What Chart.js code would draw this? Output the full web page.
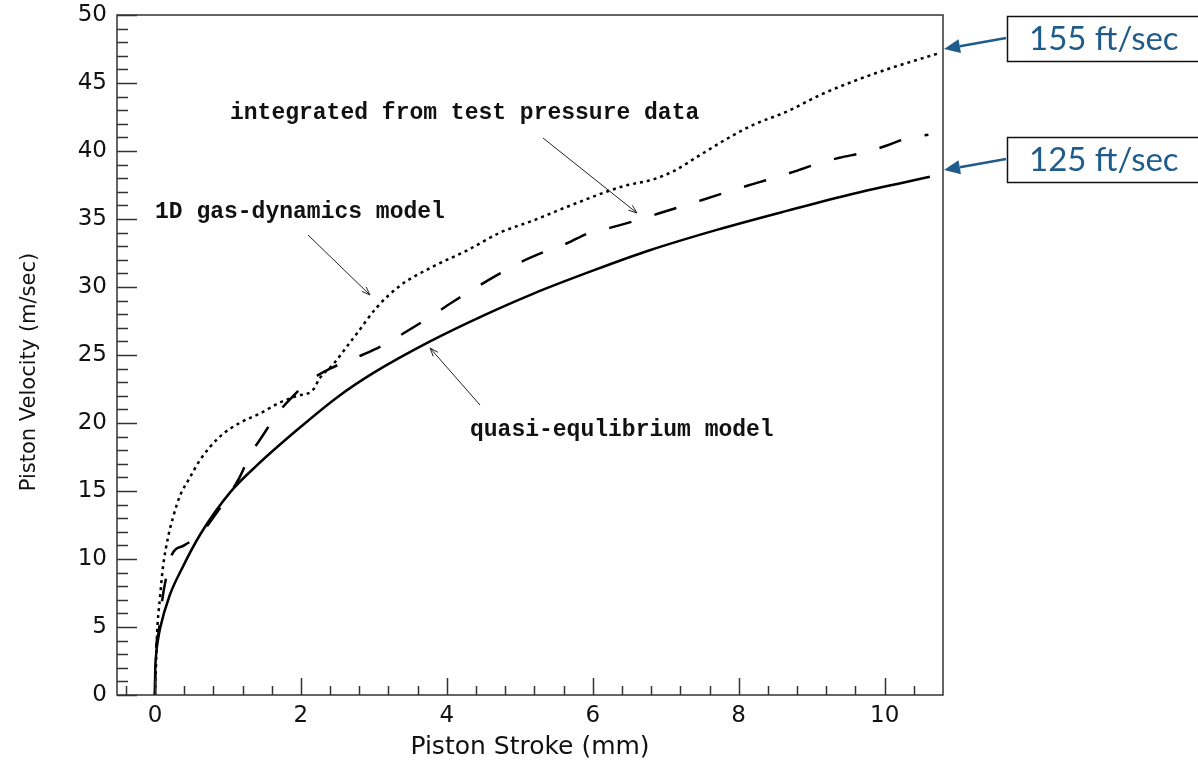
<!DOCTYPE html>
<html>
<head>
<meta charset="utf-8">
<script src="https://cdn.jsdelivr.net/npm/chart.js@4.4.1/dist/chart.umd.min.js"></script>
<style>
  html, body { margin: 0; padding: 0; background: #fff; overflow: hidden; }
  #wrap { width: 1198px; height: 765px; }
</style>
</head>
<body>
<div id="wrap"><canvas id="myChart"></canvas></div>
<script>
// quasi-equlibrium model (solid line)
const quasiX = [0, 0.003, 0.015, 0.04, 0.07, 0.2, 0.38, 0.62, 1.03, 1.4, 1.95, 2.5, 3.0, 3.77, 4.5, 5.18, 6.0, 6.78, 7.7, 8.66, 9.6, 10.62];
const quasiY = [0, 1.5, 2.9, 4.0, 4.9, 7.3, 9.4, 11.8, 14.9, 16.9, 19.5, 21.9, 23.7, 26.0, 27.9, 29.5, 31.2, 32.7, 34.2, 35.6, 36.9, 38.1];

// 1D gas-dynamics model (dotted line)
const gasX = [0, 0.01, 0.03, 0.07, 0.11, 0.18, 0.25, 0.34, 0.48, 0.62, 0.89, 1.16, 1.44, 1.71, 1.95, 2.16, 2.26, 2.44, 2.67, 2.77, 3.04, 3.36, 3.81, 4.28, 4.73, 5.19, 5.65, 6.41, 6.82, 7.1, 7.47, 7.84, 8.19, 8.66, 9.11, 9.56, 10.03, 10.75];
const gasY = [0, 1.5, 4.6, 7.2, 9.4, 11.6, 13.1, 14.6, 16.0, 17.3, 19.0, 20.0, 20.7, 21.5, 22.0, 22.4, 23.3, 24.3, 25.9, 26.6, 28.5, 30.1, 31.5, 32.7, 34.0, 34.9, 35.9, 37.4, 37.9, 38.5, 39.7, 40.9, 41.9, 42.9, 44.1, 45.1, 46.0, 47.2];

// integrated from test pressure data (dashed line)
const testX = [0, 0.01, 0.05, 0.1, 0.16, 0.23, 0.4, 0.62, 0.78, 1.0, 1.16, 1.3, 1.48, 1.68, 1.88, 2.05, 2.23, 2.4, 2.84, 3.12, 3.47, 3.77, 4.08, 4.38, 4.73, 5.0, 5.34, 5.64, 5.96, 6.27, 6.6, 6.9, 7.2, 7.5, 7.85, 8.15, 8.47, 8.77, 9.1, 9.38, 9.73, 10.03, 10.34, 10.6];
const testY = [0, 2.8, 4.6, 7.0, 8.8, 10.3, 11.0, 11.8, 12.9, 14.6, 16.0, 17.6, 19.1, 20.7, 21.9, 22.8, 23.5, 24.0, 25.0, 25.7, 26.8, 27.8, 28.9, 29.9, 31.0, 31.8, 32.6, 33.2, 34.0, 34.4, 34.9, 35.4, 35.9, 36.4, 37.0, 37.5, 38.0, 38.5, 39.1, 39.5, 39.9, 40.4, 41.0, 41.2];

// axis ticks
const xTicks = [0, 2, 4, 6, 8, 10];
const yTicks = [0, 5, 10, 15, 20, 25, 30, 35, 40, 45, 50];

// callouts on the right (value = where the arrow points on the y axis)
const calloutText = ['155 ft/sec', '125 ft/sec'];
const calloutValue = [47.5, 38.6];

function toPoints(xs, ys) {
  return xs.map((v, i) => ({ x: v, y: ys[i] }));
}

function thinArrow(ctx, x1, y1, x2, y2) {
  const ang = Math.atan2(y2 - y1, x2 - x1);
  ctx.beginPath();
  ctx.moveTo(x1, y1);
  ctx.lineTo(x2, y2);
  ctx.moveTo(x2 - 9 * Math.cos(ang - 0.35), y2 - 9 * Math.sin(ang - 0.35));
  ctx.lineTo(x2, y2);
  ctx.lineTo(x2 - 9 * Math.cos(ang + 0.35), y2 - 9 * Math.sin(ang + 0.35));
  ctx.stroke();
}

function blockArrow(ctx, x1, y1, x2, y2) {
  const ang = Math.atan2(y2 - y1, x2 - x1);
  const hx = x2 - 16 * Math.cos(ang), hy = y2 - 16 * Math.sin(ang);
  ctx.beginPath();
  ctx.moveTo(x1, y1);
  ctx.lineTo(hx, hy);
  ctx.stroke();
  ctx.beginPath();
  ctx.moveTo(x2, y2);
  ctx.lineTo(hx + 7 * Math.sin(ang), hy - 7 * Math.cos(ang));
  ctx.lineTo(hx - 7 * Math.sin(ang), hy + 7 * Math.cos(ang));
  ctx.closePath();
  ctx.fill();
}

// frame, inward ticks, y title, notes and callouts
const frameAndNotes = {
  id: 'frameAndNotes',
  afterDraw(chart) {
    const { ctx, chartArea: a, scales: { x, y } } = chart;
    ctx.save();

    // frame
    ctx.strokeStyle = '#333';
    ctx.lineWidth = 1.5;
    ctx.strokeRect(a.left, a.top, a.right - a.left, a.bottom - a.top);

    // y ticks: major every 5, minor every 1
    ctx.beginPath();
    for (let v = 0; v <= 50; v++) {
      const py = Math.round(y.getPixelForValue(v)) + 0.5;
      const len = v % 5 === 0 ? 20 : 11;
      ctx.moveTo(a.left, py);
      ctx.lineTo(a.left + len, py);
    }
    // x ticks: major every 2, minor every 0.4
    for (let i = -1; i <= 26; i++) {
      const px = Math.round(x.getPixelForValue(i * 0.4)) + 0.5;
      const len = i % 5 === 0 ? 17 : 9;
      ctx.moveTo(px, a.bottom);
      ctx.lineTo(px, a.bottom - len);
    }
    ctx.stroke();

    // y axis title
    ctx.save();
    ctx.translate(30, 372);
    ctx.rotate(-Math.PI / 2);
    ctx.fillStyle = '#111';
    ctx.font = '21px "DejaVu Sans"';
    ctx.textAlign = 'center';
    ctx.textBaseline = 'middle';
    ctx.fillText('Piston Velocity (m/sec)', 0, 0);
    ctx.restore();

    // notes
    ctx.fillStyle = '#111';
    ctx.font = 'bold 23px "Liberation Mono"';
    ctx.textBaseline = 'middle';
    ctx.textAlign = 'left';
    ctx.fillText('integrated from test pressure data', 230, 113);
    ctx.fillText('1D gas-dynamics model', 155, 212);
    ctx.fillText('quasi-equlibrium model', 470, 430);

    ctx.strokeStyle = '#222';
    ctx.lineWidth = 1;
    thinArrow(ctx, 543, 138, 637, 213);
    thinArrow(ctx, 308, 235, 370, 295);
    thinArrow(ctx, 480, 405, 430, 348);

    // callouts
    const boxTop = [16, 137];
    calloutText.forEach((t, i) => {
      ctx.strokeStyle = '#111';
      ctx.lineWidth = 1.5;
      ctx.strokeRect(1007.5, boxTop[i] + 0.5, 400, 45);
      ctx.fillStyle = '#1F5C8B';
      ctx.font = '33px Lato';
      ctx.textBaseline = 'middle';
      ctx.fillText(t, 1029, boxTop[i] + 23);
      ctx.strokeStyle = '#1F5C8B';
      ctx.lineWidth = 2.5;
      blockArrow(ctx, 1006, boxTop[i] + 22, a.right + 1, y.getPixelForValue(calloutValue[i]));
    });

    ctx.restore();
  }
};

const ctx = document.getElementById('myChart');
new Chart(ctx, {
  type: 'line',
  data: {
    datasets: [
      {
        label: 'quasi-equlibrium model',
        data: toPoints(quasiX, quasiY),
        borderColor: '#000',
        borderWidth: 2.5,
        pointRadius: 0,
        cubicInterpolationMode: 'monotone'
      },
      {
        label: '1D gas-dynamics model',
        data: toPoints(gasX, gasY),
        borderColor: '#000',
        borderWidth: 2.5,
        borderDash: [3, 4],
        pointRadius: 0,
        cubicInterpolationMode: 'monotone'
      },
      {
        label: 'integrated from test pressure data',
        data: toPoints(testX, testY),
        borderColor: '#000',
        borderWidth: 2.5,
        borderDash: [23, 24],
        pointRadius: 0,
        cubicInterpolationMode: 'monotone'
      }
    ]
  },
  options: {
    responsive: true,
    maintainAspectRatio: false,
    animation: false,
    layout: { padding: { top: 15, right: 255, left: 0, bottom: 0 } },
    plugins: {
      legend: { display: false },
      tooltip: { enabled: false }
    },
    scales: {
      x: {
        type: 'linear',
        min: -0.52,
        max: 10.8,
        grid: { display: false, drawTicks: false },
        border: { display: false },
        afterBuildTicks: s => { s.ticks = xTicks.map(v => ({ value: v })); },
        afterFit: s => { s.height = 70; s.paddingLeft = 0; s.paddingRight = 0; },
        ticks: {
          padding: 7,
          color: '#111',
          font: { family: 'DejaVu Sans', size: 23 }
        },
        title: {
          display: true,
          text: 'Piston Stroke (mm)',
          color: '#111',
          font: { family: 'DejaVu Sans', size: 25 },
          padding: { top: 0, bottom: 3 }
        }
      },
      y: {
        min: 0,
        max: 50,
        grid: { display: false, drawTicks: false },
        border: { display: false },
        afterBuildTicks: s => { s.ticks = yTicks.map(v => ({ value: v })); },
        afterFit: s => { s.width = 117; s.paddingTop = 0; s.paddingBottom = 0; },
        ticks: {
          padding: 10,
          color: '#111',
          font: { family: 'DejaVu Sans', size: 23 }
        }
      }
    }
  },
  plugins: [frameAndNotes]
});
</script>
</body>
</html>
